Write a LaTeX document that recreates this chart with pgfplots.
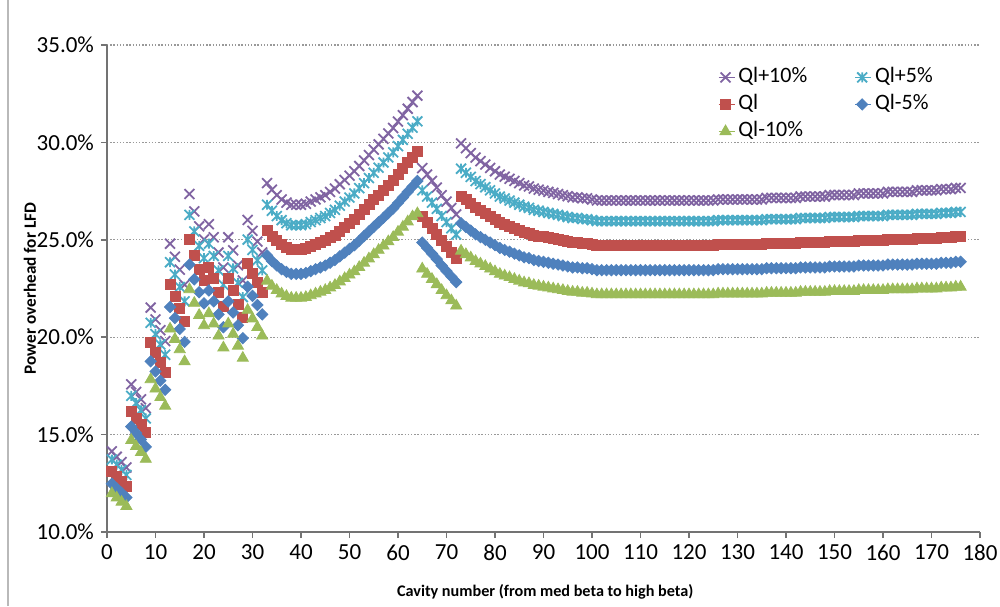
\documentclass[border=0pt]{standalone}
\usepackage{fontspec}
\setmainfont{Carlito}
\usepackage{pgfplots}
\usepackage{pgfplotstable}
\pgfplotsset{compat=1.18}
\definecolor{cP}{RGB}{128,100,162}
\definecolor{cC}{RGB}{75,172,198}
\definecolor{cR}{RGB}{192,80,77}
\definecolor{cB}{RGB}{79,129,189}
\definecolor{cG}{RGB}{155,187,89}
\pgfdeclareplotmark{xstar}{%
  \pgfpathmoveto{\pgfqpoint{-.7071\pgfplotmarksize}{-.7071\pgfplotmarksize}}%
  \pgfpathlineto{\pgfqpoint{.7071\pgfplotmarksize}{.7071\pgfplotmarksize}}%
  \pgfpathmoveto{\pgfqpoint{-.7071\pgfplotmarksize}{.7071\pgfplotmarksize}}%
  \pgfpathlineto{\pgfqpoint{.7071\pgfplotmarksize}{-.7071\pgfplotmarksize}}%
  \pgfpathmoveto{\pgfqpoint{0pt}{-.7071\pgfplotmarksize}}%
  \pgfpathlineto{\pgfqpoint{0pt}{.7071\pgfplotmarksize}}%
  \pgfusepathqstroke}
\pgfplotstableread{
n p c r b g
1 14.14 13.72 13.10 12.48 11.98
2 13.86 13.46 12.85 12.24 11.76
3 13.59 13.19 12.60 12.01 11.54
4 13.31 12.93 12.35 11.77 11.32
5 17.58 16.99 16.20 15.41 14.71
6 17.19 16.62 15.85 15.08 14.40
7 16.81 16.25 15.50 14.75 14.09
8 16.36 15.83 15.10 14.37 13.74
9 21.52 20.74 19.75 18.76 17.83
10 20.91 20.16 19.20 18.24 17.35
11 20.36 19.63 18.70 17.77 16.91
12 19.80 19.10 18.20 17.30 16.47
13 24.80 23.85 22.70 21.55 20.43
14 24.13 23.22 22.10 20.98 19.90
15 23.47 22.58 21.50 20.42 19.37
16 22.69 21.84 20.80 19.76 18.75
17 27.35 26.28 25.00 23.73 22.45
18 26.46 25.43 24.20 22.97 21.75
19 25.69 24.69 23.50 22.31 21.13
20 25.02 24.06 22.90 21.74 20.60
21 25.80 24.80 23.60 22.40 21.22
22 25.13 24.17 23.00 21.84 20.69
23 24.35 23.43 22.30 21.17 20.07
24 23.58 22.69 21.60 20.51 19.46
25 25.13 24.17 23.00 21.84 20.69
26 24.46 23.53 22.40 21.27 20.16
27 23.69 22.79 21.70 20.61 19.55
28 22.91 22.06 21.00 19.95 18.93
29 26.02 25.01 23.80 22.59 21.39
30 25.46 24.48 23.30 22.12 20.95
31 24.91 23.95 22.80 21.65 20.51
32 24.35 23.43 22.30 21.17 20.07
33 27.91 26.80 25.50 24.20 22.89
34 27.57 26.49 25.20 23.91 22.63
35 27.29 26.22 24.95 23.68 22.41
36 27.07 26.01 24.75 23.49 22.23
37 26.91 25.85 24.60 23.35 22.10
38 26.80 25.75 24.50 23.25 22.01
39 26.80 25.75 24.50 23.25 22.01
40 26.80 25.75 24.50 23.25 22.01
41 26.85 25.80 24.55 23.30 22.05
42 26.96 25.91 24.65 23.39 22.14
43 27.07 26.01 24.75 23.49 22.23
44 27.18 26.12 24.85 23.58 22.32
45 27.29 26.22 24.95 23.68 22.41
46 27.46 26.38 25.10 23.82 22.54
47 27.63 26.54 25.25 23.96 22.67
48 27.85 26.75 25.45 24.15 22.85
49 28.07 26.96 25.65 24.34 23.02
50 28.29 27.17 25.85 24.53 23.20
51 28.52 27.38 26.05 24.72 23.37
52 28.79 27.65 26.30 24.95 23.59
53 29.07 27.91 26.55 25.19 23.81
54 29.35 28.17 26.80 25.43 24.03
55 29.63 28.44 27.05 25.66 24.25
56 29.90 28.70 27.30 25.90 24.47
57 30.18 28.97 27.55 26.13 24.69
58 30.46 29.23 27.80 26.37 24.91
59 30.74 29.49 28.05 26.61 25.13
60 31.07 29.81 28.35 26.89 25.40
61 31.40 30.13 28.65 27.17 25.66
62 31.73 30.44 28.95 27.46 25.93
63 32.07 30.76 29.25 27.74 26.19
64 32.40 31.08 29.55 28.02 26.35
65 28.68 27.54 26.20 24.86 23.51
66 28.35 27.22 25.90 24.58 23.24
67 28.02 26.91 25.60 24.29 22.98
68 27.68 26.59 25.30 24.01 22.71
69 27.29 26.22 24.95 23.68 22.41
70 26.96 25.91 24.65 23.39 22.14
71 26.63 25.59 24.35 23.11 21.88
72 26.30 25.27 24.05 22.83 21.61
73 29.95 28.65 27.25 25.85 24.43
74 29.70 28.44 27.05 25.66 24.25
75 29.45 28.23 26.85 25.47 24.08
76 29.22 28.02 26.65 25.28 23.90
77 29.04 27.86 26.50 25.14 23.77
78 28.86 27.70 26.35 25.00 23.64
79 28.69 27.54 26.20 24.86 23.51
80 28.52 27.38 26.05 24.72 23.37
81 28.35 27.22 25.90 24.58 23.24
82 28.24 27.12 25.80 24.48 23.15
83 28.13 27.01 25.70 24.39 23.07
84 28.02 26.91 25.60 24.29 22.98
85 27.91 26.80 25.50 24.20 22.89
86 27.79 26.70 25.40 24.10 22.80
87 27.74 26.64 25.35 24.06 22.76
88 27.63 26.54 25.25 23.96 22.67
89 27.57 26.49 25.20 23.91 22.63
90 27.52 26.43 25.15 23.87 22.58
91 27.46 26.38 25.10 23.82 22.54
92 27.41 26.33 25.05 23.77 22.49
93 27.35 26.28 25.00 23.73 22.45
94 27.29 26.22 24.95 23.68 22.41
95 27.24 26.17 24.90 23.63 22.36
96 27.18 26.12 24.85 23.58 22.32
97 27.18 26.12 24.85 23.58 22.32
98 27.13 26.06 24.80 23.54 22.27
99 27.13 26.06 24.80 23.54 22.27
100 27.07 26.01 24.75 23.49 22.23
101 27.02 25.96 24.70 23.44 22.19
102 27.02 25.96 24.70 23.44 22.19
103 27.02 25.96 24.70 23.44 22.19
104 27.02 25.96 24.70 23.44 22.19
105 27.02 25.96 24.70 23.44 22.19
106 27.02 25.96 24.70 23.44 22.19
107 27.02 25.96 24.70 23.44 22.19
108 27.02 25.96 24.70 23.44 22.19
109 27.02 25.96 24.70 23.44 22.19
110 27.02 25.96 24.70 23.44 22.19
111 27.02 25.96 24.70 23.44 22.19
112 27.02 25.96 24.70 23.44 22.19
113 27.02 25.96 24.70 23.44 22.19
114 27.02 25.96 24.70 23.44 22.19
115 27.02 25.96 24.70 23.44 22.19
116 27.02 25.96 24.70 23.44 22.19
117 27.02 25.96 24.70 23.44 22.19
118 27.02 25.96 24.70 23.44 22.19
119 27.02 25.96 24.70 23.44 22.19
120 27.02 25.96 24.70 23.44 22.19
121 27.02 25.96 24.70 23.44 22.19
122 27.02 25.96 24.70 23.44 22.19
123 27.02 25.96 24.70 23.44 22.19
124 27.02 25.96 24.70 23.44 22.19
125 27.02 25.96 24.70 23.44 22.19
126 27.07 26.01 24.75 23.49 22.23
127 27.07 26.01 24.75 23.49 22.23
128 27.07 26.01 24.75 23.49 22.23
129 27.07 26.01 24.75 23.49 22.23
130 27.07 26.01 24.75 23.49 22.23
131 27.07 26.01 24.75 23.49 22.23
132 27.07 26.01 24.75 23.49 22.23
133 27.07 26.01 24.75 23.49 22.23
134 27.07 26.01 24.75 23.49 22.23
135 27.07 26.01 24.75 23.49 22.23
136 27.15 26.06 24.80 23.54 22.27
137 27.15 26.06 24.80 23.54 22.27
138 27.15 26.06 24.80 23.54 22.27
139 27.15 26.06 24.80 23.54 22.27
140 27.15 26.06 24.80 23.54 22.27
141 27.15 26.06 24.80 23.54 22.27
142 27.15 26.06 24.80 23.54 22.27
143 27.22 26.12 24.85 23.58 22.32
144 27.22 26.12 24.85 23.58 22.32
145 27.22 26.12 24.85 23.58 22.32
146 27.22 26.12 24.85 23.58 22.32
147 27.22 26.12 24.85 23.58 22.32
148 27.22 26.12 24.85 23.58 22.32
149 27.30 26.17 24.90 23.63 22.36
150 27.30 26.17 24.90 23.63 22.36
151 27.30 26.17 24.90 23.63 22.36
152 27.30 26.17 24.90 23.63 22.36
153 27.30 26.17 24.90 23.63 22.36
154 27.30 26.17 24.90 23.63 22.36
155 27.38 26.22 24.95 23.68 22.41
156 27.38 26.22 24.95 23.68 22.41
157 27.38 26.22 24.95 23.68 22.41
158 27.38 26.22 24.95 23.68 22.41
159 27.38 26.22 24.95 23.68 22.41
160 27.38 26.22 24.95 23.68 22.41
161 27.46 26.28 25.00 23.73 22.45
162 27.46 26.28 25.00 23.73 22.45
163 27.46 26.28 25.00 23.73 22.45
164 27.46 26.28 25.00 23.73 22.45
165 27.46 26.28 25.00 23.73 22.45
166 27.46 26.28 25.00 23.73 22.45
167 27.54 26.33 25.05 23.77 22.49
168 27.54 26.33 25.05 23.77 22.49
169 27.54 26.33 25.05 23.77 22.49
170 27.54 26.33 25.05 23.77 22.49
171 27.54 26.33 25.05 23.77 22.49
172 27.60 26.38 25.10 23.82 22.54
173 27.60 26.38 25.10 23.82 22.54
174 27.60 26.38 25.10 23.82 22.54
175 27.66 26.43 25.15 23.87 22.58
176 27.66 26.43 25.15 23.87 22.58
}\datatab

\begin{document}
\begin{tikzpicture}
\useasboundingbox (0,0) rectangle (500pt,303pt);
\draw[gray!55, line width=0.8pt] (4pt,0) -- (4pt,303pt);
\begin{axis}[
  at={(53.5pt,37pt)}, anchor=south west,
  scale only axis, width=436.5pt, height=243.5pt,
  xmin=0, xmax=180, ymin=10, ymax=35,
  xtick={0,10,...,180}, ytick={10,15,...,35},
  axis x line*=bottom, axis y line*=left,
  axis line style={draw=gray!90!black, line width=0.8pt},
  tick align=outside, major tick length=3pt,
  tick style={draw=gray!90!black, line width=0.8pt},
  ymajorgrids,
  major grid style={draw=gray!80, dash pattern=on 0.7pt off 0.9pt, line width=0.6pt},
  /pgf/number format/assume math mode=true,
  yticklabel={\pgfmathprintnumber[fixed,fixed zerofill,precision=1]{\tick}\%},
  ticklabel style={font=\fontsize{11.5}{13}\selectfont, text=black},
  xlabel={Cavity number (from med beta to high beta)},
  ylabel={Power overhead for LFD},
  xlabel style={font=\bfseries\fontsize{8.1}{10}\selectfont, at={(axis description cs:0.502,-0.123)}, anchor=center},
  ylabel style={font=\bfseries\fontsize{8.6}{10}\selectfont, at={(axis description cs:-0.0882,0.5)}, anchor=center},
  legend columns=2,
  legend cell align=left,
  legend image code/.code={\draw[mark repeat=2,mark phase=2,#1] plot coordinates {(0pt,0pt)(3pt,0pt)(7.5pt,0pt)}; \path (-0.5pt,0pt) -- (7.5pt,0pt);},
  legend style={at={(0.699,0.962)}, anchor=north west, draw=none, fill=none,
    font=\fontsize{11}{13}\selectfont, inner sep=0pt,
    nodes={inner sep=1.5pt, text height=8pt, text depth=2.5pt},
    /tikz/every even column/.append style={column sep=22pt}},
]
\addplot[only marks, mark=x, mark size=3.5pt, color=cP, line width=0.9pt] table[x=n,y=p]{\datatab};
\addlegendentry{Ql+10\%}
\addplot[only marks, mark=xstar, mark size=3.5pt, color=cC, line width=0.9pt] table[x=n,y=c]{\datatab};
\addlegendentry{Ql+5\%}
\addplot[only marks, mark=square*, mark size=2.5pt, color=cR] table[x=n,y=r]{\datatab};
\addlegendentry{Ql}
\addplot[only marks, mark=square*, mark size=2pt, mark options={rotate=45}, color=cB] table[x=n,y=b]{\datatab};
\addlegendentry{Ql-5\%}
\addplot[only marks, mark=triangle*, mark size=3.2pt, color=cG] table[x=n,y=g]{\datatab};
\addlegendentry{Ql-10\%}
\end{axis}
\end{tikzpicture}
\end{document}
